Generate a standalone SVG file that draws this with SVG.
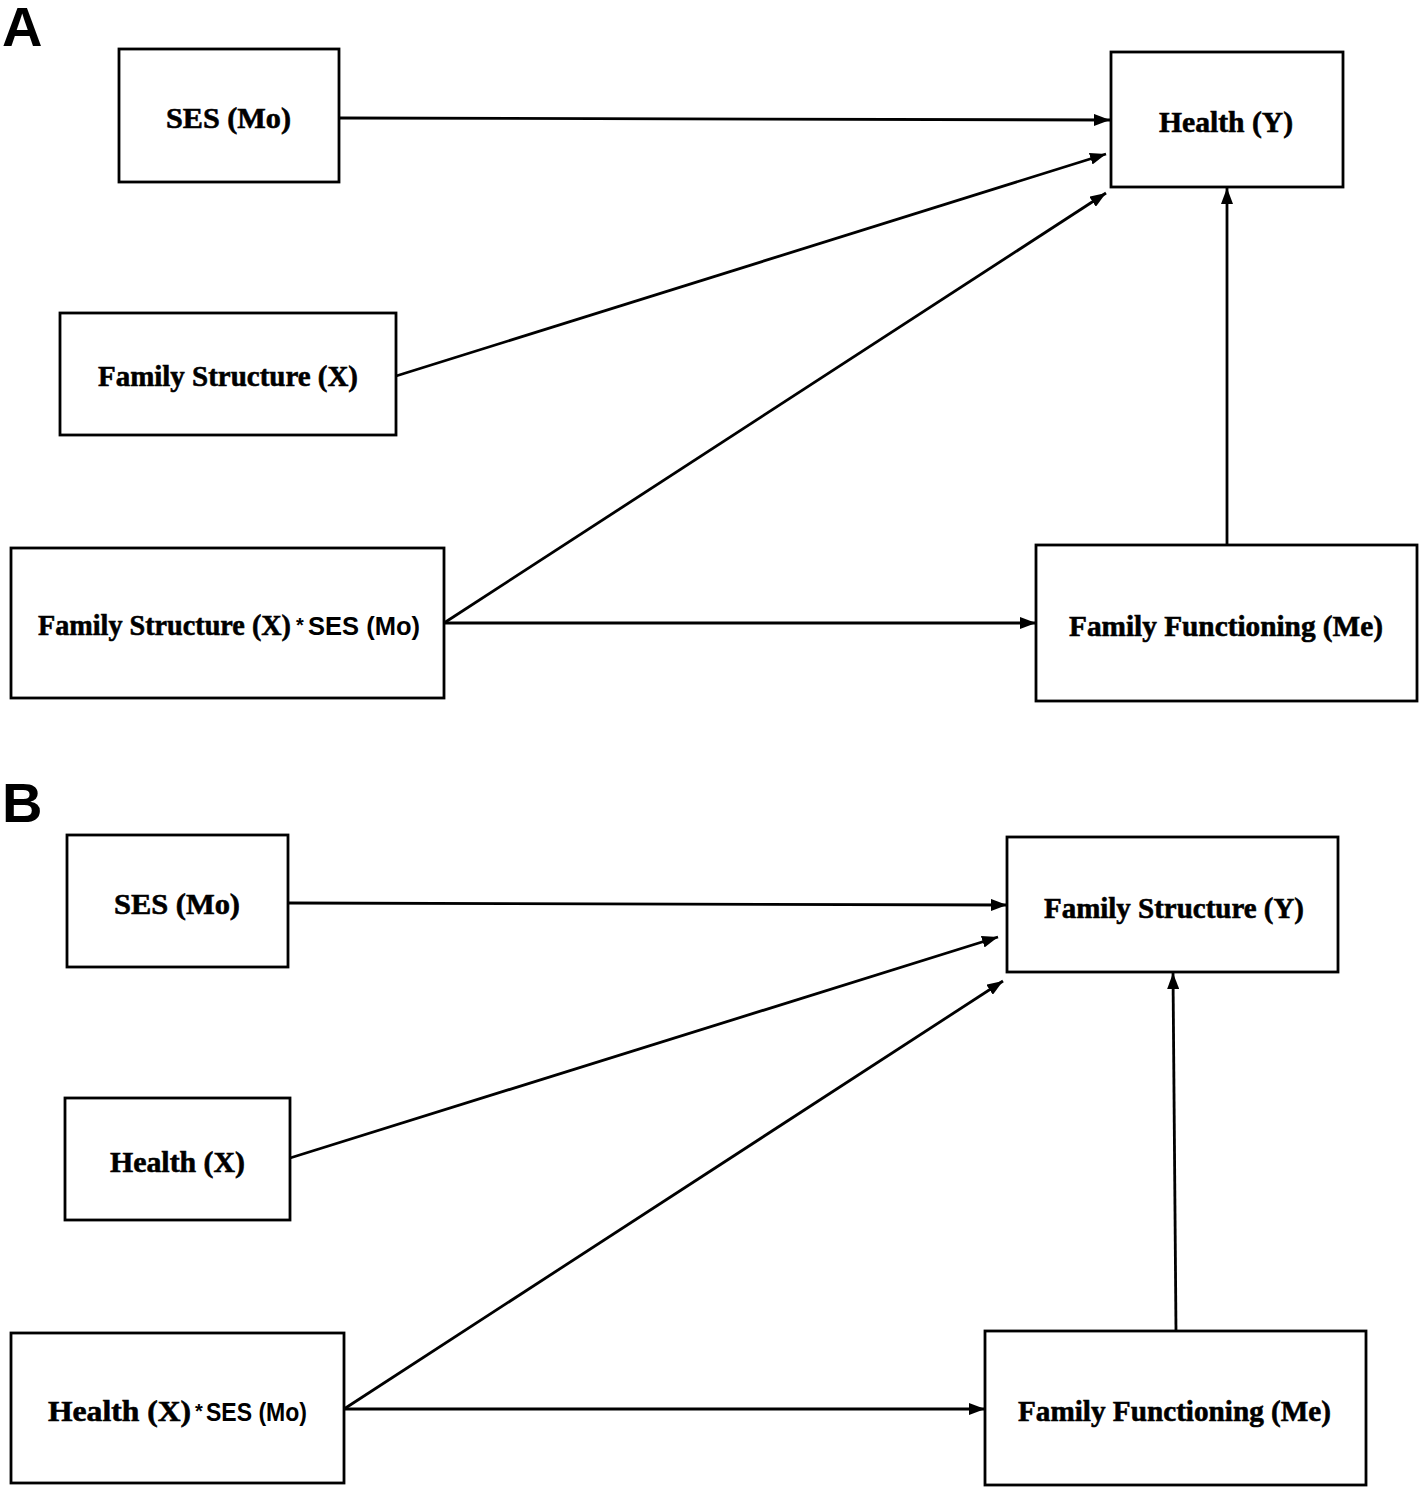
<svg xmlns="http://www.w3.org/2000/svg" width="1419" height="1488" viewBox="0 0 1419 1488">
<style>
.box{fill:#fff;stroke:#000;stroke-width:2.8}
.t{font-family:"Liberation Serif","Times New Roman",serif;font-weight:bold;font-size:30px;fill:#000;stroke:#000;stroke-width:0.6}
.s{font-family:"Liberation Sans",Arial,sans-serif;font-weight:bold;font-size:25px;fill:#000;stroke:none}
.ast{font-family:"Liberation Sans",Arial,sans-serif;font-weight:bold;font-size:20px;fill:#000}
.lab{font-family:"Liberation Sans",Arial,sans-serif;font-weight:bold;font-size:56px;fill:#000}
.c{stroke:#000;stroke-width:2.8;fill:none;marker-end:url(#ah)}
</style>
<defs>
<marker id="ah" viewBox="0 0 16 12" refX="16" refY="6" markerWidth="16" markerHeight="12" markerUnits="userSpaceOnUse" orient="auto">
<path d="M0,0 L16,6 L0,12 Z" fill="#000"/>
</marker>
</defs>
<rect width="1419" height="1488" fill="#fff"/>
<text class="lab" x="2" y="46">A</text>
<text class="lab" x="2" y="822">B</text>
<g id="connectors">
<line class="c" x1="340" y1="118" x2="1110" y2="120"/>
<line class="c" x1="396" y1="376" x2="1106" y2="154"/>
<line class="c" x1="444" y1="623" x2="1106" y2="193"/>
<line class="c" x1="444" y1="623" x2="1036" y2="623"/>
<line class="c" x1="1227" y1="545" x2="1227" y2="188"/>
<line class="c" x1="288" y1="903" x2="1007" y2="905"/>
<line class="c" x1="290" y1="1158" x2="998" y2="937"/>
<line class="c" x1="344" y1="1409" x2="1003" y2="981"/>
<line class="c" x1="344" y1="1409" x2="985" y2="1409"/>
<line class="c" x1="1176" y1="1331" x2="1173" y2="973"/>
</g>
<g id="a-ses">
<rect class="box" x="119" y="49" width="220" height="133"/>
<text class="t" x="166" y="128" textLength="125" lengthAdjust="spacingAndGlyphs">SES (Mo)</text>
</g>
<g id="a-health">
<rect class="box" x="1111" y="52" width="232" height="135"/>
<text class="t" x="1159" y="132" textLength="134" lengthAdjust="spacingAndGlyphs">Health (Y)</text>
</g>
<g id="a-fs">
<rect class="box" x="60" y="313" width="336" height="122"/>
<text class="t" x="98" y="386" textLength="260" lengthAdjust="spacingAndGlyphs">Family Structure (X)</text>
</g>
<g id="a-inter">
<rect class="box" x="11" y="548" width="433" height="150"/>
<text class="t" x="38" y="635" textLength="253" lengthAdjust="spacingAndGlyphs">Family Structure (X)</text>
<text class="ast" x="296" y="632">*</text>
<text class="s" x="308" y="635" textLength="112" lengthAdjust="spacingAndGlyphs">SES (Mo)</text>
</g>
<g id="a-ff">
<rect class="box" x="1036" y="545" width="381" height="156"/>
<text class="t" x="1069" y="636" textLength="314" lengthAdjust="spacingAndGlyphs">Family Functioning (Me)</text>
</g>
<g id="b-ses">
<rect class="box" x="67" y="835" width="221" height="132"/>
<text class="t" x="114" y="914" textLength="126" lengthAdjust="spacingAndGlyphs">SES (Mo)</text>
</g>
<g id="b-fs">
<rect class="box" x="1007" y="837" width="331" height="135"/>
<text class="t" x="1044" y="918" textLength="260" lengthAdjust="spacingAndGlyphs">Family Structure (Y)</text>
</g>
<g id="b-health">
<rect class="box" x="65" y="1098" width="225" height="122"/>
<text class="t" x="110" y="1172" textLength="135" lengthAdjust="spacingAndGlyphs">Health (X)</text>
</g>
<g id="b-inter">
<rect class="box" x="11" y="1333" width="333" height="150"/>
<text class="t" x="48" y="1421" textLength="143" lengthAdjust="spacingAndGlyphs">Health (X)</text>
<text class="ast" x="195" y="1418">*</text>
<text class="s" x="206" y="1421" textLength="101" lengthAdjust="spacingAndGlyphs">SES (Mo)</text>
</g>
<g id="b-ff">
<rect class="box" x="985" y="1331" width="381" height="154"/>
<text class="t" x="1018" y="1421" textLength="313" lengthAdjust="spacingAndGlyphs">Family Functioning (Me)</text>
</g>
</svg>
